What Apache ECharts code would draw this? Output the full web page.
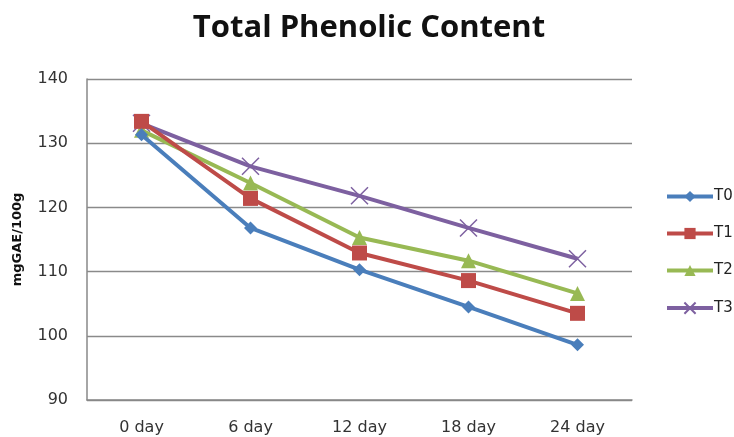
<!DOCTYPE html>
<html><head><meta charset="utf-8">
<script src="https://cdn.jsdelivr.net/npm/echarts@6/dist/echarts.min.js"></script>
<style>html,body{margin:0;padding:0;background:#fff}#c{width:734px;height:437px}</style>
</head><body><div id="c"></div>
<script>
var categories = ['0 day','6 day','12 day','18 day','24 day'];
var T0 = [131.3, 116.8, 110.3, 104.5, 98.6];
var T1 = [133.4, 121.4, 112.9, 108.6, 103.5];
var T2 = [132.0, 123.8, 115.3, 111.7, 106.6];
var T3 = [133.1, 126.4, 121.8, 116.8, 112.0];
var seriesNames = ['T0','T1','T2','T3'];
var colors = ['#4A7EBB','#BE4B48','#98B954','#7D60A0'];
var symbols = ['diamond','rect','triangle','path://M0,0 L10,10 M10,0 L0,10'];
var symbolSizes = [13, 15, 15, 17];
var data = [T0, T1, T2, T3];

var chart = echarts.init(document.getElementById('c'));
var series = seriesNames.map(function(n, i){
  var isX = i === 3;
  return {
    name: n, type: 'line', data: data[i],
    symbol: symbols[i], symbolSize: symbolSizes[i],
    showAllSymbol: true,
    lineStyle: {color: colors[i], width: 4},
    itemStyle: isX ? {color: 'none', borderColor: colors[i], borderWidth: 1.5} : {color: colors[i], borderWidth: 0},
    emphasis: {disabled: true},
    z: 10 - i
  };
});
chart.setOption({
  animation: false,
  backgroundColor: '#fff',
  title: {
    text: 'Total Phenolic Content', left: 364, top: 8, textAlign: 'center',
    textStyle: {fontFamily: 'Open Sans', fontWeight: 'bold', fontSize: 31, color: '#111'}
  },
  legend: {
    orient: 'vertical', left: 660, top: 184, itemGap: 22,
    itemWidth: 46, itemHeight: 14,
    data: seriesNames,
    lineStyle: {width: 4},
    textStyle: {fontFamily: 'DejaVu Sans', fontSize: 15, color: '#222', padding: [0,0,0,-4]}
  },
  grid: {left: 87, right: 102, top: 79, bottom: 37},
  xAxis: {
    type: 'category', data: categories, boundaryGap: true,
    axisLine: {lineStyle: {color: '#888', width: 1.5}},
    axisTick: {show: false},
    axisLabel: {fontFamily: 'DejaVu Sans', fontSize: 16, color: '#333', margin: 20}
  },
  yAxis: {
    type: 'value', min: 90, max: 140, interval: 10,
    name: 'mgGAE/100g', nameLocation: 'middle', nameGap: 63, nameRotate: 90,
    nameTextStyle: {fontFamily: 'DejaVu Sans', fontWeight: 'bold', fontSize: 13, color: '#111'},
    axisLine: {show: true, lineStyle: {color: '#888', width: 1.5}},
    axisTick: {show: false},
    splitLine: {lineStyle: {color: '#8a8a8a', width: 1.3}},
    axisLabel: {fontFamily: 'DejaVu Sans', fontSize: 16, color: '#333', margin: 19}
  },
  series: series
});
</script></body></html>
